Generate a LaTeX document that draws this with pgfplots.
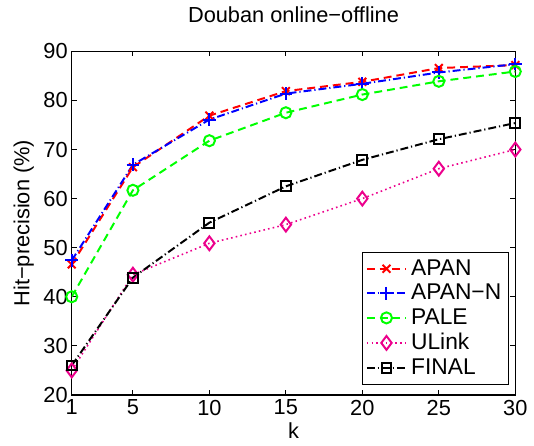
\documentclass[border=0pt]{standalone}
\usepackage{fontspec}
\setmainfont{Liberation Sans}
\usepackage{pgfplots}
\pgfplotsset{compat=1.18}
\begin{document}
\begin{tikzpicture}
\begin{axis}[
  scale only axis,
  width=224pt, height=173.5pt,
  xmin=1, xmax=30, ymin=20, ymax=90,
  xtick={1,5,10,15,20,25,30},
  ytick={20,30,...,90},
  tick align=inside,
  major tick length=2.5pt,
  axis line style={line width=0.6pt},
  every tick/.style={black, line width=0.5pt},
  /pgf/number format/assume math mode=true,
  ticklabel style={font=\fontsize{11}{12}\selectfont},
  xticklabel style={yshift=1pt},
  yticklabel style={xshift=1.5pt},
  title={Douban online−offline},
  title style={font=\fontsize{11}{12}\selectfont, yshift=5pt},
  xlabel={k},
  ylabel={Hit−precision (\%)},
  label style={font=\fontsize{11}{12}\selectfont},
  xlabel style={yshift=3pt},
  ylabel style={yshift=-2pt},
  legend style={font=\fontsize{11.5}{13}\selectfont, draw=black, line width=0.5pt,
    at={(0.985,0.03)}, anchor=south east, inner sep=1.5pt, row sep=-1pt,
    cells={anchor=west}},
  legend image post style={line width=1pt},
  legend image code/.code={
    \draw[mark repeat=2,mark phase=2]
    plot coordinates {(0cm,0cm) (0.35cm,0cm) (0.7cm,0cm)};
  },
]
\addplot[red, line width=1pt, dash pattern=on 4pt off 2.5pt, mark=x, mark size=2.8pt, mark options={solid, line width=1pt}]
  coordinates {(1,46.6) (5,66.4) (10,76.9) (15,81.9) (20,83.8) (25,86.6) (30,87.2)};
\addlegendentry{APAN}
\addplot[blue, line width=1pt, dash pattern=on 4pt off 1.5pt on 0.6pt off 1.5pt, mark=+, mark size=3.2pt, mark options={solid, line width=1pt}]
  coordinates {(1,47.4) (5,66.9) (10,76.1) (15,81.4) (20,83.4) (25,85.7) (30,87.4)};
\addlegendentry{APAN−N}
\addplot[green, line width=1pt, dash pattern=on 4pt off 2.5pt, mark=o, mark size=2.8pt, mark options={solid, line width=1pt}]
  coordinates {(1,40.0) (5,61.7) (10,71.8) (15,77.5) (20,81.2) (25,83.9) (30,85.9)};
\addlegendentry{PALE}
\addplot[magenta, line width=0.8pt, dash pattern=on 0.8pt off 1.6pt, mark=diamond, mark size=3.5pt, mark options={solid, line width=1pt}]
  coordinates {(1,25.0) (5,44.5) (10,50.9) (15,54.7) (20,60.0) (25,66.1) (30,70.0)};
\addlegendentry{ULink}
\addplot[black, line width=1pt, dash pattern=on 4pt off 1.5pt on 0.6pt off 1.5pt, mark=square, mark size=2.5pt, mark options={solid, line width=1pt}]
  coordinates {(1,26.0) (5,43.9) (10,55.1) (15,62.5) (20,67.9) (25,72.1) (30,75.4)};
\addlegendentry{FINAL}
\end{axis}
\path (current bounding box.west) ++(-3.5pt,0);
\end{tikzpicture}
\end{document}
